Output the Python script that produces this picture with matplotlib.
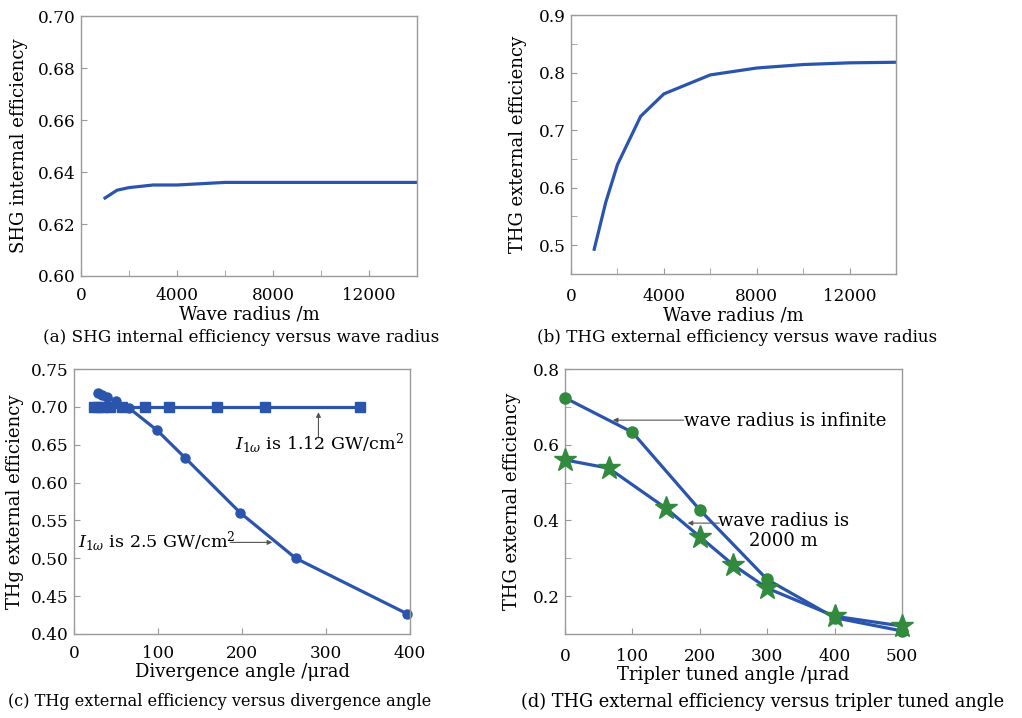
import matplotlib
matplotlib.use("Agg")
import matplotlib.pyplot as plt

plt.rcParams['font.family'] = ['DejaVu Serif']
plt.rcParams['mathtext.fontset'] = 'dejavuserif'

BLUE = '#2b55ac'
GREEN = '#318a3e'
SPINE = '#9a9a9a'

# (a) SHG internal efficiency vs wave radius
radius_a = [1000, 1500, 2000, 3000, 4000, 6000, 8000, 10000, 12000, 14000]
shg_eff = [0.630, 0.633, 0.634, 0.635, 0.635, 0.636, 0.636, 0.636, 0.636, 0.636]

# (b) THG external efficiency vs wave radius
radius_b = [1000, 1500, 2000, 3000, 4000, 6000, 8000, 10000, 12000, 14000]
thg_eff = [0.493, 0.575, 0.640, 0.724, 0.763, 0.796, 0.808, 0.814, 0.817, 0.818]

# (c) THg external efficiency vs divergence angle
div_25 = [28.3, 33, 39.6, 49.5, 66, 99, 132, 198, 264, 396]
eff_25 = [0.718, 0.716, 0.713, 0.708, 0.698, 0.669, 0.633, 0.560, 0.500, 0.427]
div_112 = [24.3, 28.3, 34, 42.5, 57, 85, 113, 170, 227, 340]
eff_112 = [0.700, 0.700, 0.700, 0.700, 0.700, 0.700, 0.700, 0.700, 0.700, 0.700]

# (d) THG external efficiency vs tripler tuned angle
ang_inf = [0, 100, 200, 300, 400, 500]
eff_inf = [0.724, 0.633, 0.428, 0.244, 0.143, 0.108]
ang_2000 = [0, 65, 150, 200, 250, 300, 400, 500]
eff_2000 = [0.560, 0.538, 0.432, 0.357, 0.282, 0.221, 0.147, 0.121]

TICK_FS = 12.2
LABEL_FS = 13.0
ANN_FS = 12.6
CAP_FS = 12.1

fig = plt.figure(figsize=(10.22, 7.18), dpi=100)

def style(ax):
    for s in ax.spines.values():
        s.set_color(SPINE)
        s.set_linewidth(1.0)
    ax.tick_params(axis='both', which='both', direction='in', color=SPINE,
                   labelsize=TICK_FS, top=False, right=False)
    ax.tick_params(axis='x', which='both', pad=8)
    ax.tick_params(axis='y', which='both', pad=4)
    ax.tick_params(which='major', length=4)
    ax.tick_params(which='minor', length=4)

ARW = dict(arrowstyle='-|>', color='#555555', lw=0.8,
           mutation_scale=7, shrinkA=0, shrinkB=0)

# panel a
axa = fig.add_axes([0.0793, 0.6156, 0.3287, 0.3621])
axa.plot(radius_a, shg_eff, color=BLUE, lw=2.3)
axa.set_xlim(0, 14000)
axa.set_ylim(0.60, 0.70)
axa.set_xticks([0, 4000, 8000, 12000])
axa.set_xticks([2000, 6000, 10000], minor=True)
axa.set_yticks([0.60, 0.62, 0.64, 0.66, 0.68, 0.70])
axa.set_yticklabels(['0.60', '0.62', '0.64', '0.66', '0.68', '0.70'])
style(axa)
axa.set_xlabel('Wave radius /m', fontsize=LABEL_FS, labelpad=1)
axa.set_ylabel('SHG internal efficiency', fontsize=LABEL_FS, labelpad=7)

# panel b
axb = fig.add_axes([0.5587, 0.6184, 0.3180, 0.3606])
axb.plot(radius_b, thg_eff, color=BLUE, lw=2.3)
axb.set_xlim(0, 14000)
axb.set_ylim(0.45, 0.90)
axb.set_xticks([0, 4000, 8000, 12000])
axb.set_xticks([2000, 6000, 10000], minor=True)
axb.set_yticks([0.5, 0.6, 0.7, 0.8, 0.9])
axb.set_yticks([0.55, 0.65, 0.75, 0.85], minor=True)
axb.set_yticklabels(['0.5', '0.6', '0.7', '0.8', '0.9'])
style(axb)
axb.tick_params(axis='x', which='both', pad=10)
axb.set_xlabel('Wave radius /m', fontsize=LABEL_FS, labelpad=1)
axb.set_ylabel('THG external efficiency', fontsize=LABEL_FS, labelpad=8)

# panel c
axc = fig.add_axes([0.0724, 0.117, 0.3288, 0.369])
axc.plot(div_112, eff_112, color=BLUE, lw=2.3, marker='s', ms=7.5,
         mfc=BLUE, mec=BLUE, clip_on=False)
axc.plot(div_25, eff_25, color=BLUE, lw=2.3, marker='o', ms=6.5,
         mfc=BLUE, mec=BLUE, clip_on=False)
axc.set_xlim(0, 400)
axc.set_ylim(0.40, 0.75)
axc.set_xticks([0, 100, 200, 300, 400])
axc.set_yticks([0.40, 0.45, 0.50, 0.55, 0.60, 0.65, 0.70, 0.75])
axc.set_yticklabels(['0.40', '0.45', '0.50', '0.55', '0.60', '0.65', '0.70', '0.75'])
style(axc)
axc.set_xlabel('Divergence angle /\u03bcrad', fontsize=LABEL_FS, labelpad=1)
axc.set_ylabel('THg external efficiency', fontsize=LABEL_FS, labelpad=5)
axc.annotate('', xy=(291, 0.693), xytext=(291, 0.659), arrowprops=ARW)
axc.text(393, 0.651, r'$I_{1\omega}$ is 1.12 GW/cm$^2$', fontsize=ANN_FS,
         ha='right', va='center')
axc.annotate('', xy=(236, 0.521), xytext=(186, 0.521), arrowprops=ARW)
axc.text(5, 0.522, r'$I_{1\omega}$ is 2.5 GW/cm$^2$', fontsize=ANN_FS,
         ha='left', va='center')

# panel d
axd = fig.add_axes([0.5528, 0.117, 0.3298, 0.369])
axd.plot(ang_inf, eff_inf, color=BLUE, lw=2.3, marker='o', ms=8,
         mfc=GREEN, mec=GREEN, clip_on=False, zorder=3)
axd.plot(ang_2000, eff_2000, color=BLUE, lw=2.3, marker='*', ms=17,
         mfc=GREEN, mec=GREEN, clip_on=False, zorder=3)
axd.set_xlim(0, 500)
axd.set_ylim(0.10, 0.80)
axd.set_xticks([0, 100, 200, 300, 400, 500])
axd.set_yticks([0.2, 0.4, 0.6, 0.8])
axd.set_yticks([0.3, 0.5, 0.7], minor=True)
axd.set_yticklabels(['0.2', '0.4', '0.6', '0.8'])
style(axd)
axd.tick_params(axis='x', which='both', pad=10)
axd.set_xlabel('Tripler tuned angle /\u03bcrad', fontsize=LABEL_FS, labelpad=1)
axd.set_ylabel('THG external efficiency', fontsize=LABEL_FS, labelpad=8)
axd.annotate('', xy=(71, 0.665), xytext=(176, 0.665), arrowprops=ARW)
axd.text(177, 0.664, 'wave radius is infinite', fontsize=LABEL_FS,
         ha='left', va='center')
axd.annotate('', xy=(182, 0.393), xytext=(229, 0.393), arrowprops=ARW)
axd.text(324, 0.372, 'wave radius is\n2000 m', fontsize=LABEL_FS,
         ha='center', va='center', linespacing=1.1)

# captions
fig.text(241 / 1022, 1 - 338 / 718, '(a) SHG internal efficiency versus wave radius',
         fontsize=CAP_FS, ha='center', va='center')
fig.text(737 / 1022, 1 - 338 / 718, '(b) THG external efficiency versus wave radius',
         fontsize=CAP_FS, ha='center', va='center')
fig.text(220 / 1022, 1 - 702 / 718, '(c) THg external efficiency versus divergence angle',
         fontsize=11.6, ha='center', va='center')
fig.text(763 / 1022, 1 - 702 / 718, '(d) THG external efficiency versus tripler tuned angle',
         fontsize=12.8, ha='center', va='center')

fig.savefig('out.png', dpi=100)
